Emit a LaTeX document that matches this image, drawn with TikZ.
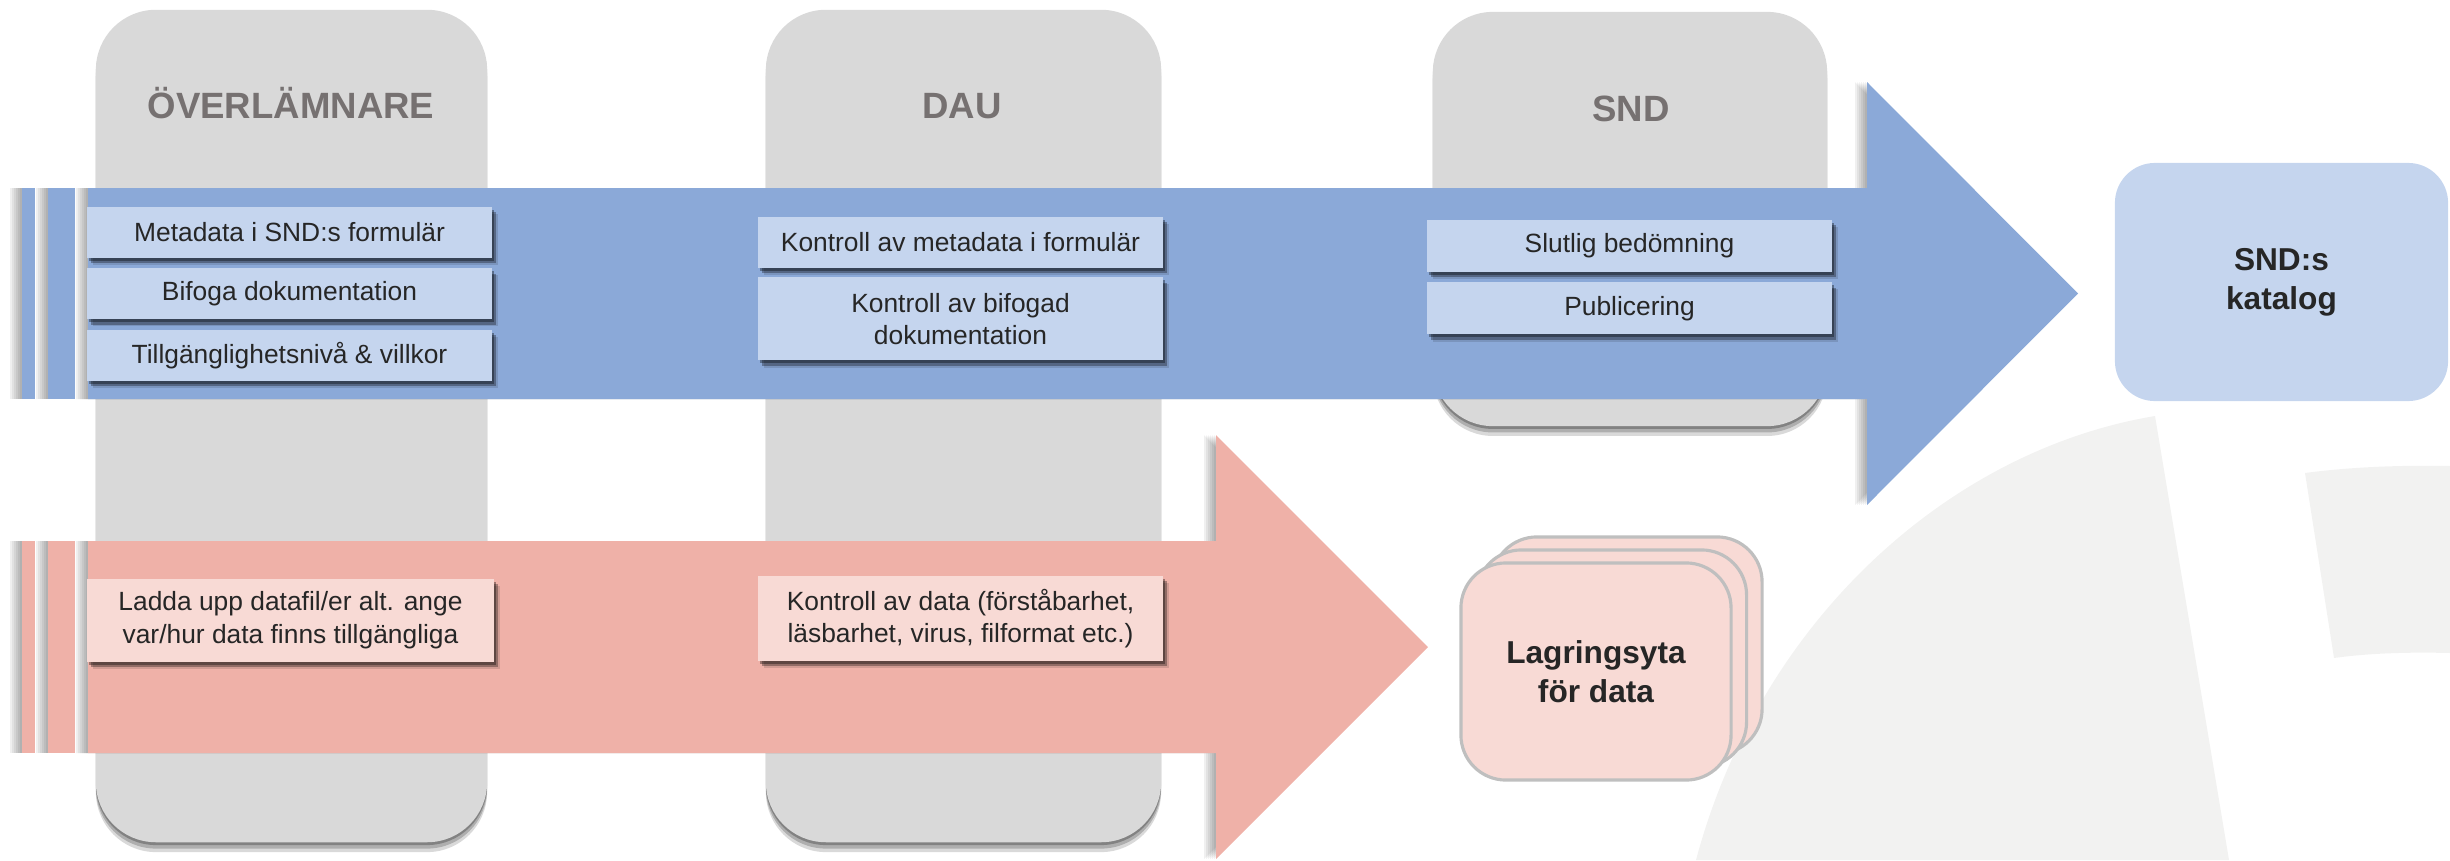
\documentclass[tikz,border=0pt]{standalone}
\usepackage{fontspec}
\setmainfont{Liberation Sans}
\usetikzlibrary{positioning, shadows}
\definecolor{laneGray}{HTML}{D9D9D9}
\definecolor{titleGray}{HTML}{767171}
\definecolor{metaBlue}{HTML}{8BA9D8}
\definecolor{metaLight}{HTML}{C5D5EE}
\definecolor{dataPink}{HTML}{EFB1A8}
\definecolor{dataLight}{HTML}{F8DAD5}
\definecolor{textDark}{HTML}{262626}
\definecolor{logoGray}{HTML}{F2F2F1}
\definecolor{stackLine}{HTML}{BFBFBF}

% soft shadow to the left of a shape
\newcommand{\leftshadow}[1]{%
  \foreach \s in {2,4,...,12}{\fill[black, opacity=.06, xshift=-\s*0.1mm] #1;}}
\newcommand{\metapath}{(88,188) -- (1867,188) -- (1867,82) -- (2078,293.5) -- (1867,505) -- (1867,399) -- (88,399) -- cycle}
\newcommand{\datapath}{(88,541) -- (1216,541) -- (1216,435) -- (1428,647) -- (1216,859) -- (1216,753) -- (88,753) -- cycle}

\tikzset{
  lane/.style={fill=laneGray, rounded corners=6mm, inner sep=0pt, outer sep=0pt,
    drop shadow={shadow xshift=0pt, shadow yshift=-.8pt, opacity=.25, fill=black},
    drop shadow={shadow xshift=0pt, shadow yshift=-1.8pt, opacity=.2, fill=black},
    drop shadow={shadow xshift=0pt, shadow yshift=-2.8pt, opacity=.15, fill=black}},
  lanetitle/.style={text=titleGray, anchor=base, font=\fontsize{10.4}{12}\selectfont\bfseries},
  taskbox/.style={fill=metaLight, minimum width=4.05cm, minimum height=0.51cm, inner sep=0pt,
    align=center, text=textDark, font=\fontsize{7.5}{9.3}\selectfont,
    drop shadow={shadow xshift=.6pt, shadow yshift=-.8pt, opacity=.35, fill=black},
    drop shadow={shadow xshift=1.2pt, shadow yshift=-1.5pt, opacity=.3, fill=black},
    drop shadow={shadow xshift=1.6pt, shadow yshift=-2pt, opacity=.12, fill=black}},
  datatask/.style={taskbox, fill=dataLight, minimum height=0.83cm},
  target/.style={rounded corners=4mm, inner sep=0pt, align=center, text=textDark,
    font=\fontsize{9}{11}\selectfont\bfseries}
}

\begin{document}
\begin{tikzpicture}[x=0.01cm, y=-0.01cm]
  \useasboundingbox (0,0) rectangle (2450,860);

  % logo in the background
  \fill[logoGray] (1696,860) .. controls (1760,620) and (1950,450) .. (2155,416) -- (2229,860) -- cycle;
  \fill[logoGray] (2305,473) .. controls (2350,467) and (2400,465) .. (2450,466) -- (2450,653)
    .. controls (2410,652) and (2370,653) .. (2334,658) -- cycle;

  % lanes
  \node[lane, minimum width=3.91cm, minimum height=8.32cm] (overlamnare) at (291.5,426) {};
  \node[lane, minimum width=3.95cm, minimum height=8.32cm] (dau) at (963.5,426) {};
  \node[lane, minimum width=3.94cm, minimum height=4.14cm] (snd) at (1630,219) {};
  \node[lanetitle] (overlamnareT) at (291,118) {ÖVERLÄMNARE};
  \node[lanetitle] (dauT) at (962,118) {DAU};
  \node[lanetitle] (sndT) at (1631,121) {SND};

  % metadata flow
  \leftshadow{\metapath}
  \fill[metaBlue] \metapath;
  % data flow
  \leftshadow{\datapath}
  \fill[dataPink] \datapath;
  \foreach \a/\b in {22/35, 48/75}{
    \leftshadow{(\a,188) rectangle (\b,399)}
    \fill[metaBlue] (\a,188) rectangle (\b,399);
    \leftshadow{(\a,541) rectangle (\b,753)}
    \fill[dataPink] (\a,541) rectangle (\b,753);
  }

  % steps, metadata
  \node[taskbox] (m1) at (289.5,232.5) {Metadata i SND:s formulär};
  \node[taskbox, below=0.9mm of m1] (m2) {Bifoga dokumentation};
  \node[taskbox, below=0.9mm of m2] (m3) {Tillgänglighetsnivå \& villkor};
  \node[taskbox] (d1) at (960.5,242.5) {Kontroll av metadata i formulär};
  \node[taskbox, below=0.8mm of d1, minimum height=0.83cm] (d2) {Kontroll av bifogad\\dokumentation};
  \node[taskbox, minimum height=0.52cm] (s1) at (1629.5,246) {Slutlig bedömning};
  \node[taskbox, minimum height=0.52cm, below=0.9mm of s1] (s2) {Publicering};

  % steps, data
  \node[datatask, minimum width=4.07cm] (p1) at (290.5,620.5) {Ladda upp datafil/er alt. ange\\var/hur data finns tillgängliga};
  \node[datatask, minimum height=0.85cm] (p2) at (960.5,618.5) {Kontroll av data (förståbarhet,\\läsbarhet, virus, filformat etc.)};

  % where things end up
  \node[target, fill=metaLight, minimum width=3.33cm, minimum height=2.38cm] (katalog) at (2281.5,282) {SND:s\\katalog};
  \node[target, fill=dataLight, draw=stackLine, line width=.9pt, rounded corners=4.5mm,
    minimum width=2.7cm, minimum height=2.17cm,
    copy shadow={shadow xshift=3.1mm, shadow yshift=2.6mm, fill=dataLight, draw=stackLine},
    copy shadow={shadow xshift=1.55mm, shadow yshift=1.3mm, fill=dataLight, draw=stackLine}]
    (lagring) at (1596,671.5) {Lagringsyta\\för data};
\end{tikzpicture}
\end{document}
